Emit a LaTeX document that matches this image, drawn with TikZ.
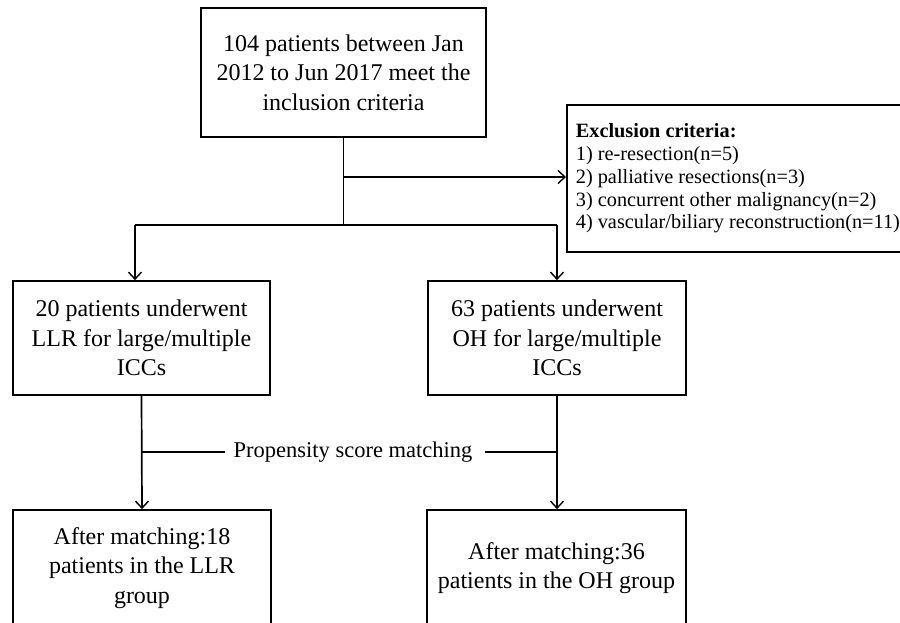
\documentclass[tikz,border=0pt]{standalone}
\usepackage{fontspec}
\setmainfont{Liberation Serif}
\usetikzlibrary{arrows.meta}
\begin{document}
\begin{tikzpicture}[x=1pt,y=-1pt,
  line width=1.7pt,
  box/.style={draw, line width=1.7pt, align=center, inner sep=0pt,
    font=\fontsize{24}{29.5}\selectfont},
  arr/.style={-{Straight Barb[length=7pt,width=13pt,line width=1.4pt]}},
  lbl/.style={font=\fontsize{22.5}{26}\selectfont, inner sep=0pt}
]
\useasboundingbox (0,0) rectangle (900,623);

\node[box, minimum width=285pt, minimum height=129pt] (top) at (343.5,72.5)
  {104 patients between Jan\\2012 to Jun 2017 meet the\\inclusion criteria};

\node[draw, line width=1.7pt, anchor=west, align=left, inner xsep=9pt, inner ysep=0pt,
  minimum height=147pt, font=\fontsize{20.3}{22.7}\selectfont] (excl) at (566,178.5)
  {\textbf{Exclusion criteria:}\\1) re-resection(n=5)\\2) palliative resections(n=3)\\3) concurrent other malignancy(n=2)\\4) vascular/biliary reconstruction(n=11)};

\node[box, minimum width=257pt, minimum height=114pt] (llr) at (141.5,338)
  {20 patients underwent\\LLR for large/multiple\\ICCs};
\node[box, minimum width=258pt, minimum height=114pt] (oh) at (557,338)
  {63 patients underwent\\OH for large/multiple\\ICCs};

\node[box, minimum width=258pt, minimum height=116pt] (llrm) at (142,568)
  {After matching:18\\patients in the LLR\\group};
\node[box, minimum width=259pt, minimum height=116pt] (ohm) at (556.5,568)
  {After matching:36\\patients in the OH group};

\node[lbl] (psm) at (353,452) {Propensity score matching};

% connectors top
\coordinate (j1) at (top.south |- 0,177);
\coordinate (j2) at (top.south |- 0,225);
\coordinate (bl) at (135,225);
\coordinate (br) at (oh.north |- 0,225);
\draw (top.south) -- (j2);
\draw[arr] (j1) -- (j1 -| excl.west);
\draw (bl) -- (br);
\draw[arr] (bl) -- (bl |- llr.north);
\draw[arr] (br) -- (oh.north);

% connectors middle
\draw[arr] (llr.south) -- (llrm.north);
\draw[arr] (oh.south) -- (oh.south |- llrm.north);
\coordinate (pl) at (llr.south |- psm.west);
\coordinate (pr) at (oh.south |- psm.east);
\draw (pl) -- ([xshift=-8pt]psm.west);
\draw ([xshift=12pt]psm.east) -- (pr);
\end{tikzpicture}
\end{document}
